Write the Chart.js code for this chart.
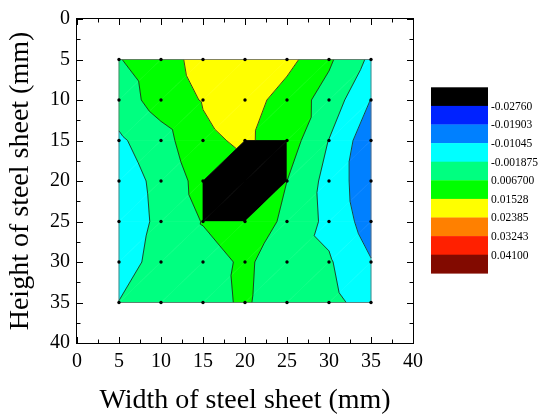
<!DOCTYPE html>
<html><head><meta charset="utf-8">
<script src="https://cdn.jsdelivr.net/npm/chart.js@4.4.1/dist/chart.umd.min.js"></script>
<style>html,body{margin:0;padding:0;background:#fff;}canvas{display:block;}</style>
</head><body>
<canvas id="c" width="539" height="418"></canvas>
<script>
// measuring positions (mm)
const xPositions = [5, 10, 15, 20, 25, 30, 35];
const yPositions = [5, 10, 15, 20, 25, 30, 35];
// measured values, one row per height (x = 5 ... 35)
const rowY5  = [0.0063, 0.0116, 0.0184, 0.0204, 0.0181, 0.0080, -0.0036];
const rowY10 = [0.0024, 0.0105, 0.0158, 0.0196, 0.0113, 0.0034, -0.0107];
const rowY15 = [-0.0032, 0.0033, 0.0136, 0.0166, 0.0112, -0.0021, -0.0167];
const rowY20 = [-0.0062, 0.0005, 0.0101, 0.0110, 0.0067, -0.0047, -0.0167];
const rowY25 = [-0.0070, 0.0000, 0.0071, 0.0118, 0.0051, -0.0042, -0.0145];
const rowY30 = [-0.0053, 0.0010, 0.0033, 0.0080, 0.0024, -0.0010, -0.0100];
const rowY35 = [-0.0017, 0.0024, 0.0041, 0.0077, 0.0016, 0.0007, -0.0056];
// blanked (hole) points
const blankX = [20, 25, 15, 20, 25, 15, 20];
const blankY = [15, 15, 20, 20, 20, 25, 25];
// contour levels & colours
const levels = [-0.02760, -0.01903, -0.01045, -0.001875, 0.006700, 0.01528, 0.02385, 0.03243, 0.04100];
const levelLabels = ['-0.02760', '-0.01903', '-0.01045', '-0.001875', '0.006700', '0.01528', '0.02385', '0.03243', '0.04100'];
const bandColors = ['#000000', '#0022ff', '#0080ff', '#00ffff', '#00ff80', '#00ff00', '#ffff00', '#ff8000', '#ff2000', '#820a00'];
const axisTicks = [0, 5, 10, 15, 20, 25, 30, 35, 40];

const valueRows = [rowY5, rowY10, rowY15, rowY20, rowY25, rowY30, rowY35];
const SERIF = '"Liberation Serif", "Times New Roman", serif';

function isBlank(x, y) {
  for (let i = 0; i < blankX.length; i++) if (blankX[i] === x && blankY[i] === y) return true;
  return false;
}
function buildTriangles() {
  const tris = [];
  for (let j = 0; j < yPositions.length - 1; j++) {
    for (let i = 0; i < xPositions.length - 1; i++) {
      const P = (ii, jj) => ({ x: xPositions[ii], y: yPositions[jj], v: valueRows[jj][ii], b: isBlank(xPositions[ii], yPositions[jj]) });
      const p00 = P(i, j), p10 = P(i + 1, j), p01 = P(i, j + 1), p11 = P(i + 1, j + 1);
      tris.push([p00, p10, p01]);
      tris.push([p10, p11, p01]);
    }
  }
  return tris;
}
function clipPoly(poly, lvl, above) {
  const out = [];
  const n = poly.length;
  for (let k = 0; k < n; k++) {
    const a = poly[k], b = poly[(k + 1) % n];
    const ia = above ? a.v >= lvl : a.v <= lvl;
    const ib = above ? b.v >= lvl : b.v <= lvl;
    if (ia) out.push(a);
    if (ia !== ib) {
      const t = (lvl - a.v) / (b.v - a.v);
      out.push({ x: a.x + t * (b.x - a.x), y: a.y + t * (b.y - a.y), v: lvl });
    }
  }
  return out;
}

const contourPlugin = {
  id: 'contour',
  beforeDatasetsDraw(chart) {
    const ctx = chart.ctx, xs = chart.scales.x, ys = chart.scales.y;
    const px = p => [xs.getPixelForValue(p.x), ys.getPixelForValue(p.y)];
    const tris = buildTriangles();
    ctx.save();
    const pathOf = poly => {
      ctx.beginPath();
      poly.forEach((p, k) => { const [X, Y] = px(p); k ? ctx.lineTo(X, Y) : ctx.moveTo(X, Y); });
      ctx.closePath();
    };
    // filled bands
    tris.forEach(tri => {
      const blank = tri.every(p => p.b);
      if (blank) {
        pathOf(tri); ctx.fillStyle = '#000'; ctx.fill();
        ctx.strokeStyle = '#000'; ctx.lineWidth = 0.8; ctx.stroke();
        return;
      }
      for (let b = 0; b < bandColors.length; b++) {
        let poly = tri;
        if (b > 0) poly = clipPoly(poly, levels[b - 1], true);
        if (poly.length >= 3 && b < levels.length) poly = clipPoly(poly, levels[b], false);
        if (poly.length < 3) continue;
        pathOf(poly);
        ctx.fillStyle = bandColors[b]; ctx.fill();
        ctx.strokeStyle = bandColors[b]; ctx.lineWidth = 0.6; ctx.stroke();
      }
    });
    // contour lines
    ctx.strokeStyle = '#1a1a1a'; ctx.lineWidth = 0.8;
    tris.forEach(tri => {
      if (tri.every(p => p.b)) return;
      levels.forEach(l => {
        const pts = [];
        for (let k = 0; k < 3; k++) {
          const a = tri[k], c = tri[(k + 1) % 3];
          if ((a.v >= l) !== (c.v >= l)) {
            const t = (l - a.v) / (c.v - a.v);
            pts.push({ x: a.x + t * (c.x - a.x), y: a.y + t * (c.y - a.y) });
          }
        }
        if (pts.length === 2) {
          ctx.beginPath();
          const [x1, y1] = px(pts[0]), [x2, y2] = px(pts[1]);
          ctx.moveTo(x1, y1); ctx.lineTo(x2, y2); ctx.stroke();
        }
      });
    });
    // outline of measured region
    const x0 = xs.getPixelForValue(xPositions[0]), x1 = xs.getPixelForValue(xPositions[xPositions.length - 1]);
    const y0 = ys.getPixelForValue(yPositions[0]), y1 = ys.getPixelForValue(yPositions[yPositions.length - 1]);
    ctx.strokeStyle = '#666'; ctx.lineWidth = 0.8;
    ctx.strokeRect(x0, y0, x1 - x0, y1 - y0);
    ctx.restore();
  },
  afterDatasetsDraw(chart) {
    const ctx = chart.ctx, a = chart.chartArea, xs = chart.scales.x, ys = chart.scales.y;
    ctx.save();
    ctx.strokeStyle = '#000'; ctx.lineWidth = 1;
    ctx.beginPath();
    for (let k = 0; k < axisTicks.length; k++) {
      const v = axisTicks[k];
      const X = Math.round(xs.getPixelForValue(v)) + 0.5, Y = Math.round(ys.getPixelForValue(v)) + 0.5;
      ctx.moveTo(X, a.bottom); ctx.lineTo(X, a.bottom - 6);
      ctx.moveTo(X, a.top); ctx.lineTo(X, a.top + 6);
      ctx.moveTo(a.left, Y); ctx.lineTo(a.left + 6, Y);
      ctx.moveTo(a.right, Y); ctx.lineTo(a.right - 6, Y);
      if (k < axisTicks.length - 1) {
        const m = (v + axisTicks[k + 1]) / 2;
        const Xm = Math.round(xs.getPixelForValue(m)) + 0.5, Ym = Math.round(ys.getPixelForValue(m)) + 0.5;
        ctx.moveTo(Xm, a.bottom); ctx.lineTo(Xm, a.bottom - 3.5);
        ctx.moveTo(Xm, a.top); ctx.lineTo(Xm, a.top + 3.5);
        ctx.moveTo(a.left, Ym); ctx.lineTo(a.left + 3.5, Ym);
        ctx.moveTo(a.right, Ym); ctx.lineTo(a.right - 3.5, Ym);
      }
    }
    ctx.stroke();
    ctx.strokeRect(a.left - 0.5, a.top - 0.5, a.right - a.left + 1, a.bottom - a.top + 1);
    ctx.restore();
  },
  afterDraw(chart) {
    const ctx = chart.ctx;
    const left = 431, top = 87.3, w = 57, h = 18.6;
    ctx.save();
    bandColors.forEach((c, i) => {
      ctx.fillStyle = c;
      ctx.fillRect(left, top + i * h, w, h + 0.3);
    });
    ctx.fillStyle = '#000';
    ctx.font = '11.5px ' + SERIF;
    ctx.textAlign = 'left'; ctx.textBaseline = 'middle';
    levelLabels.forEach((t, i) => ctx.fillText(t, 491, top + (i + 1) * h + 0.8));
    ctx.restore();
  }
};

const points = [];
yPositions.forEach(y => xPositions.forEach(x => points.push({ x, y })));

new Chart(document.getElementById('c'), {
  type: 'scatter',
  data: { datasets: [{ data: points, pointRadius: 1.7, pointBackgroundColor: '#000', pointBorderWidth: 0, pointHoverRadius: 1.7 }] },
  options: {
    responsive: false, animation: false, devicePixelRatio: 1,
    layout: { padding: { left: 0, top: 15, right: 126, bottom: 0 } },
    plugins: { legend: { display: false }, tooltip: { enabled: false } },
    events: [],
    scales: {
      x: {
        type: 'linear', min: 0, max: 40,
        afterBuildTicks: s => { s.ticks = axisTicks.map(v => ({ value: v })); },
        afterFit: s => { s.height = 75; },
        grid: { display: false, drawTicks: false }, border: { display: false },
        ticks: { color: '#000', font: { family: SERIF, size: 20 }, padding: 7, maxRotation: 0 },
        title: { display: true, text: 'Width of steel sheet (mm)', color: '#000', font: { family: SERIF, size: 28 }, padding: { top: 0, bottom: 1 } }
      },
      y: {
        type: 'linear', min: 0, max: 40, reverse: true,
        afterBuildTicks: s => { s.ticks = axisTicks.map(v => ({ value: v })); },
        afterFit: s => { s.width = 77; },
        grid: { display: false, drawTicks: false }, border: { display: false },
        ticks: { color: '#000', font: { family: SERIF, size: 20 }, padding: 7 },
        title: { display: true, text: 'Height of steel sheet (mm)', color: '#000', font: { family: SERIF, size: 28 }, padding: { top: 4, bottom: 0 } }
      }
    }
  },
  plugins: [contourPlugin]
});
</script>
</body></html>
